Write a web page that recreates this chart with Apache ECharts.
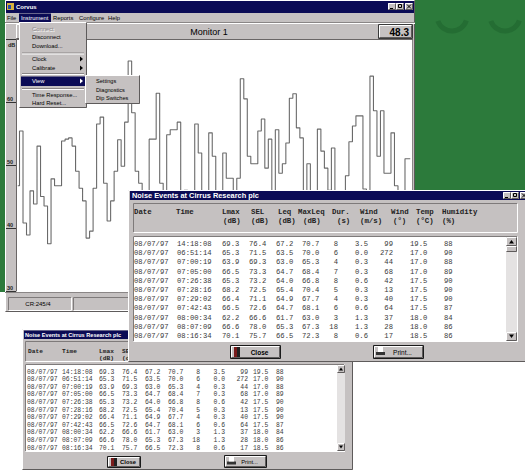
<!DOCTYPE html>
<html>
<head>
<meta charset="utf-8">
<title>Corvus - Monitor 1</title>
<script src="https://cdn.jsdelivr.net/npm/echarts@6/dist/echarts.min.js"></script>
<style>
  html, body { margin: 0; padding: 0; background: #fff; }
  #chart { width: 525px; height: 470px; }
</style>
</head>
<body>
<div id="chart"></div>
<script>
// noise level trace (dB), one value per sample
const levels = [
  46.7, 55.4, 40.8, 38.9, 45.9, 43.8, 53.0, 45.0, 43.5, 37.5,
  47.8, 46.7, 46.7, 53.8, 54.1, 54.3, 53.0, 49.0, 46.3, 44.3,
  38.4, 39.5, 46.3, 56.5, 57.6, 47.1, 41.1, 44.3, 49.0, 54.0,
  49.8, 56.8, 66.5, 58.3, 49.0, 47.1, 43.0, 44.0, 54.1, 54.1,
  61.4, 47.1, 42.5, 54.8, 55.6, 55.6, 56.8, 43.0, 46.0, 44.0,
  42.0, 56.5, 51.9, 44.0, 43.0, 55.1, 51.4, 44.0, 43.0, 51.9,
  47.9, 47.9, 44.0, 47.9, 63.7, 60.5, 51.4, 50.2, 50.2, 55.4,
  57.3, 49.5, 54.1, 42.0, 55.6, 48.7, 50.2, 53.5, 60.6, 61.3,
  55.9, 54.3, 42.0, 50.2, 43.0, 41.0, 55.7, 52.2, 49.5, 46.0,
  52.7, 43.0, 42.0, 44.0, 48.3, 53.7, 56.2, 57.8, 57.8, 46.2,
  43.0, 64.1, 58.6, 51.4, 58.6, 48.7, 48.7, 55.1, 46.7, 42.0,
  43.0, 51.0, 51.0
];
const samples = levels.map((v, i) => String(i + 1));
const yTicks = [30, 40, 50, 60, 70];

// noise events table
const dates = ['08/07/97', '08/07/97', '08/07/97', '08/07/97', '08/07/97', '08/07/97',
  '08/07/97', '08/07/97', '08/07/97', '08/07/97', '08/07/97'];
const times = ['14:18:08', '06:51:14', '07:00:19', '07:05:00', '07:26:38', '07:28:16',
  '07:29:02', '07:42:43', '08:00:34', '08:07:09', '08:16:34'];
const lmax = [69.3, 65.3, 63.9, 66.5, 65.3, 68.2, 66.4, 66.5, 62.2, 66.6, 70.1];
const sel = [76.4, 71.5, 69.3, 73.3, 73.2, 72.5, 71.1, 72.6, 66.6, 78.0, 75.7];
const leq = [67.2, 63.5, 63.0, 64.7, 64.0, 65.4, 64.9, 64.7, 61.7, 65.3, 66.5];
const maxLeq = [70.7, 70.0, 65.3, 68.4, 66.8, 70.4, 67.7, 68.1, 63.0, 67.3, 72.3];
const duration = [8, 6, 4, 7, 8, 5, 4, 6, 3, 18, 8];
const windSpeed = [3.5, 0.0, 0.3, 0.3, 0.6, 0.3, 0.3, 0.6, 1.3, 1.3, 0.6];
const windDir = [99, 272, 44, 68, 42, 13, 40, 64, 37, 28, 17];
const temperature = [19.5, 17.0, 17.0, 17.0, 17.5, 17.5, 17.5, 17.5, 18.0, 18.0, 18.5];
const humidity = [88, 90, 88, 89, 90, 90, 90, 87, 84, 86, 86];
const headTop = ['Date', 'Time', 'Lmax', 'SEL', 'Leq', 'MaxLeq', 'Dur.', 'Wind', 'Wind', 'Temp', 'Humidity'];
const headSub = ['', '', '(dB)', '(dB)', '(dB)', '(dB)', '(s)', '(m/s)', '(°)', '(°C)', '(%)'];

const menuBar = ['File', 'Instrument', 'Reports', 'Configure', 'Help'];
const instrumentMenu = ['Connect', 'Disconnect', 'Download...', '-', 'Clock', 'Calibrate', '-',
  'View', '-', 'Time Response...', 'Hard Reset...'];
const viewMenu = ['Settings', 'Diagnostics', 'Dip Switches'];

const GRAY = '#c5c1c1';
const NAVY = '#0b0b55';
const GREEN = '#2c7a3b';
const SANS = '"Liberation Sans", Arial, sans-serif';
const MONO = '"Liberation Mono", "Courier New", monospace';

const els = [];
function box(x, y, w, h, fill, z) {
  els.push({ type: 'rect', shape: { x, y, width: w, height: h }, style: { fill }, z, silent: true });
}
function ln(x1, y1, x2, y2, stroke, z) {
  els.push({ type: 'line', shape: { x1, y1, x2, y2 }, style: { stroke, lineWidth: 1 }, z, silent: true });
}
function edge(x, y, w, h, z, sunken) {
  const hi = sunken ? '#7e7a7a' : '#ffffff';
  const lo = sunken ? '#ffffff' : '#5e5b5b';
  ln(x + 0.5, y + 0.5, x + w - 0.5, y + 0.5, hi, z);
  ln(x + 0.5, y + 0.5, x + 0.5, y + h - 0.5, hi, z);
  ln(x + 0.5, y + h - 0.5, x + w - 0.5, y + h - 0.5, lo, z);
  ln(x + w - 0.5, y + 0.5, x + w - 0.5, y + h - 0.5, lo, z);
}
function label(x, y, s, font, fill, z, align) {
  const a = align || 'left';
  els.push({
    type: 'text', x, y, z, silent: true,
    style: { text: s, font, fill, align: a, verticalAlign: 'middle', textAlign: a, textVerticalAlign: 'middle' },
  });
}
function tri(points, fill, z) {
  els.push({ type: 'polygon', shape: { points }, style: { fill }, z, silent: true });
}
function captionButtons(x0, y, z) {
  [0, 8, 17].forEach((dx, k) => {
    const x = x0 + dx;
    box(x, y, 8, 7, GRAY, z);
    edge(x, y, 8, 7, z + 1, false);
    if (k === 0) ln(x + 2, y + 5.5, x + 5, y + 5.5, '#000', z + 1);
    if (k === 1) els.push({ type: 'rect', shape: { x: x + 2.5, y: y + 1.5, width: 3, height: 3 }, style: { fill: 'none', stroke: '#000' }, z: z + 1, silent: true });
    if (k === 2) { ln(x + 2, y + 1.5, x + 6, y + 5.5, '#000', z + 1); ln(x + 6, y + 1.5, x + 2, y + 5.5, '#000', z + 1); }
  });
}
function button(x, y, w, h, text, font, z, icon) {
  box(x, y, w, h, GRAY, z);
  els.push({ type: 'rect', shape: { x: x + 0.5, y: y + 0.5, width: w - 1, height: h - 1 }, style: { fill: 'none', stroke: '#1a1a1a' }, z: z + 1, silent: true });
  edge(x + 1, y + 1, w - 2, h - 2, z + 1, false);
  if (icon === 'close') {
    box(x + 4, y + 2, 3, h - 4, '#7a1c1c', z + 2);
    box(x + 7, y + 2, 3, h - 4, '#222', z + 2);
  } else {
    box(x + 3, y + h / 2, 9, 3, '#333', z + 2);
    box(x + 5, y + 2, 5, h / 2 - 2, '#fff', z + 2);
  }
  label(x + w / 2 + 4, y + h / 2, text, font, '#000', z + 2, 'center');
}
function table(cols, rowY, rowH, font, z) {
  times.forEach((t, i) => {
    cols.forEach((c) => label(c.x, rowY + rowH * i, c.v(i), font, '#3a3a3a', z, c.align));
  });
}
function columns(xs) {
  return [
    { x: xs[0], v: (i) => dates[i] },
    { x: xs[1], v: (i) => times[i] },
    { x: xs[2], v: (i) => lmax[i].toFixed(1) },
    { x: xs[3], v: (i) => sel[i].toFixed(1) },
    { x: xs[4], v: (i) => leq[i].toFixed(1) },
    { x: xs[5], v: (i) => maxLeq[i].toFixed(1) },
    { x: xs[6], v: (i) => String(duration[i]), align: 'right' },
    { x: xs[7], v: (i) => windSpeed[i].toFixed(1), align: 'right' },
    { x: xs[8], v: (i) => String(windDir[i]), align: 'right' },
    { x: xs[9], v: (i) => temperature[i].toFixed(1) },
    { x: xs[10], v: (i) => String(humidity[i]) },
  ];
}

// desktop
box(0, 0, 5, 292, GREEN, 1);
box(415, 0, 110, 190, GREEN, 1);
els.push({ type: 'arc', shape: { cx: 452, cy: 16, r: 15, startAngle: 0.3, endAngle: 2.8 }, style: { stroke: '#246d33', lineWidth: 5, fill: 'none' }, z: 1, silent: true });
els.push({ type: 'arc', shape: { cx: 505, cy: 16, r: 15, startAngle: 0.3, endAngle: 2.8 }, style: { stroke: '#246d33', lineWidth: 5, fill: 'none' }, z: 1, silent: true });

// main window
box(5, 0, 410, 312, GRAY, 1);
edge(5, 0, 410, 312, 2, false);
box(6, 1, 408, 12, NAVY, 2);
box(7, 3, 7, 7, '#d9b23c', 3);
box(8, 5, 3, 4, '#2a4ea8', 3);
label(16, 7, 'Corvus', 'bold 6px ' + SANS, '#fff', 3);
captionButtons(388, 3, 3);
const menuX = [7, 21, 53, 79, 108];
box(19, 13.5, 32, 9, NAVY, 3);
menuBar.forEach((m, i) => label(menuX[i], 18, m, '5.8px ' + SANS, i === 1 ? '#fff' : '#000', 4));
ln(5, 22.5, 415, 22.5, '#8a8686', 2);
ln(5, 23.5, 415, 23.5, '#ffffff', 2);
box(16, 24, 40, 15, GRAY, 3);
edge(16, 24, 40, 15, 4, false);
label(209, 31.5, 'Monitor 1', '9px ' + SANS, '#000', 3, 'center');
box(378, 24, 35, 15, GRAY, 3);
els.push({ type: 'rect', shape: { x: 378.5, y: 24.5, width: 34, height: 14 }, style: { fill: 'none', stroke: '#3a3a3a' }, z: 4, silent: true });
edge(379, 25, 33, 13, 4, false);
label(409, 32, '48.3', 'bold 10px ' + SANS, '#000', 5, 'right');
box(16, 40, 396, 252, '#ffffff', 3);
ln(16, 39.5, 413, 39.5, '#6a6666', 4);
ln(412.5, 40, 412.5, 292, '#8a8686', 4);
label(8, 45, 'dB', 'bold 5.5px ' + SANS, '#222', 7);
ln(5, 292.5, 415, 292.5, '#8a8686', 3);
box(8, 297, 64, 14, GRAY, 3);
edge(8, 297, 64, 14, 4, true);
edge(73, 297, 60, 14, 4, true);
label(38, 304, 'CR:245/4', '6px ' + SANS, '#000', 5, 'center');

// Instrument menu
box(19, 22, 68, 86, GRAY, 30);
edge(19, 22, 68, 86, 31, false);
const itemY = [29, 37, 46, 53, 59, 68, 73.5, 81, 88.5, 95, 103];
instrumentMenu.forEach((m, i) => {
  const y = itemY[i];
  if (m === '-') {
    ln(22, y, 84, y, '#8a8686', 31);
    ln(22, y + 1, 84, y + 1, '#fff', 31);
    return;
  }
  if (m === 'View') box(21, 76.5, 64, 9.5, NAVY, 31);
  if (i === 0) {
    label(33, y + 0.7, m, '5.8px ' + SANS, '#fff', 31);
    label(32, y, m, '5.8px ' + SANS, '#8a8686', 32);
    return;
  }
  const fill = m === 'View' ? '#fff' : '#000';
  label(32, y, m, '5.8px ' + SANS, fill, 32);
  if (m === 'Clock' || m === 'Calibrate' || m === 'View') tri([[80, y - 2.5], [83, y], [80, y + 2.5]], fill, 32);
});
box(85, 75, 55, 29, GRAY, 33);
edge(85, 75, 55, 29, 34, false);
viewMenu.forEach((m, i) => label(96, 81 + i * 8.7, m, '5.6px ' + SANS, '#000', 35));

// small events window (behind); only the header columns left of the big window show
box(22, 329, 331, 141, GRAY, 40);
edge(22, 329, 331, 141, 41, false);
box(24, 330.5, 327, 8.5, NAVY, 41);
label(25, 335, 'Noise Events at Cirrus Research plc', 'bold 5.6px ' + SANS, '#fff', 42);
edge(25, 341, 320, 21, 41, true);
const smallHead = [28, 62, 99, 122];
smallHead.forEach((x, i) => {
  label(x, 351, headTop[i], 'bold 6.2px ' + MONO, '#222', 42);
  label(x, 358.5, headSub[i], 'bold 6.2px ' + MONO, '#222', 42);
});
box(25, 364, 320, 88, '#ffffff', 41);
edge(25, 364, 320, 88, 42, true);
table(columns([27, 62, 99, 122, 145, 168, 200, 225, 248, 253, 276]), 372, 7.6, '6.4px ' + MONO, 42);
box(337, 365, 8, 86, '#e4e2e2', 42);
box(337, 365, 8, 8, GRAY, 43); edge(337, 365, 8, 8, 43, false);
tri([[339, 370.5], [341, 367.5], [343, 370.5]], '#000', 44);
box(337, 443, 8, 8, GRAY, 43); edge(337, 443, 8, 8, 43, false);
tri([[339, 445.5], [341, 448.5], [343, 445.5]], '#000', 44);
button(107, 456, 34, 12, 'Close', 'bold 5.8px ' + SANS, 42, 'close');
button(224, 455, 43, 13, 'Print...', '5.8px ' + SANS, 42, 'print');

// large events window (front)
box(128, 190, 397, 172, GRAY, 45);
edge(128, 190, 398, 172, 46, false);
box(130, 191, 395, 9, NAVY, 46);
label(132, 195.5, 'Noise Events at Cirrus Research plc', 'bold 7.4px ' + SANS, '#fff', 47);
captionButtons(503, 192, 47);
edge(133, 203, 385, 30, 46, true);
const bigHead = [134, 176, 222, 251, 278, 298, 332, 360, 391, 416, 442];
const bigSub = [134, 176, 223, 251, 278, 303, 337, 360, 393, 416, 442];
headTop.forEach((h, i) => label(bigHead[i], 212, h, 'bold 7.4px ' + MONO, '#222', 47));
headSub.forEach((h, i) => label(bigSub[i], 221, h, 'bold 7.4px ' + MONO, '#222', 47));
box(133, 236, 385, 106, '#ffffff', 46);
edge(133, 236, 385, 106, 47, true);
table(columns([134, 177, 222, 249, 276, 302, 338, 368, 393, 410, 444]), 244, 9.2, '7.2px ' + MONO, 47);
box(506, 237, 11, 104, '#e4e2e2', 47);
box(506, 237, 11, 9, GRAY, 48); edge(506, 237, 11, 9, 48, false);
tri([[509, 243.5], [511.5, 240], [514, 243.5]], '#000', 49);
box(506, 246, 11, 6, GRAY, 48); edge(506, 246, 11, 6, 48, false);
box(506, 332, 11, 9, GRAY, 48); edge(506, 332, 11, 9, 48, false);
tri([[509, 334.5], [511.5, 338], [514, 334.5]], '#000', 49);
button(230, 345, 51, 14, 'Close', 'bold 6.5px ' + SANS, 47, 'close');
button(373, 345, 51, 14, 'Print...', '6.5px ' + SANS, 47, 'print');

const chart = echarts.init(document.getElementById('chart'), null, { renderer: 'svg' });
chart.setOption({
  animation: false,
  backgroundColor: '#ffffff',
  grid: { left: 16, right: 113, top: 39, bottom: 179 },
  xAxis: { type: 'category', data: samples, show: false, boundaryGap: true },
  yAxis: {
    type: 'value',
    min: yTicks[0],
    max: yTicks[yTicks.length - 1],
    interval: 10,
    z: 6,
    splitLine: { show: false },
    axisLine: { show: true, lineStyle: { color: '#6a6666' } },
    axisTick: { show: true, length: 10, lineStyle: { color: '#333' } },
    axisLabel: {
      formatter: (v) => (v === 70 ? '' : String(v)),
      margin: 9,
      align: 'left',
      verticalAlign: 'bottom',
      fontSize: 5.5,
      fontWeight: 'bold',
      fontFamily: 'Liberation Sans',
      color: '#222',
    },
  },
  series: [{
    type: 'line',
    step: 'middle',
    data: levels,
    symbol: 'none',
    z: 5,
    lineStyle: { color: '#6a6a6a', width: 1.1 },
  }],
  graphic: { elements: els },
});
</script>
</body>
</html>
